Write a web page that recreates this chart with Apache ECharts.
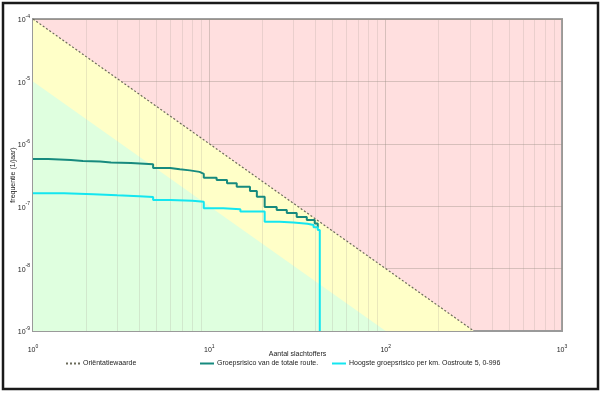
<!DOCTYPE html>
<html>
<head>
<meta charset="utf-8">
<script src="https://cdn.jsdelivr.net/npm/echarts@6/dist/echarts.min.js"></script>
<style>
html,body{margin:0;padding:0;background:#fff;}
#c{width:605px;height:395px;}
</style>
</head>
<body>
<div id="c"></div>
<script>
// ---- data ----
var orientN = [1, 316.23];
var orientF = [1e-4, 1e-9];
var greenN = [1, 100, 1000];
var greenF = [1e-5, 1e-9, 1e-9];
var yellowN = [1, 316.23, 1000];
var yellowF = [1e-4, 1e-9, 1e-9];

var totaalN = [1, 1.22, 1.64, 1.92, 2.40, 2.77, 3.59, 4.8, 6.0, 6.8, 7.75, 8.8, 9.3, 11.0, 12.6, 14.3, 17.0, 18.6, 20.6, 24.1, 27.5, 31.3, 35.7, 39.6, 41.2];
var totaalF = [5.70e-7, 5.49e-7, 5.29e-7, 5.19e-7, 5.00e-7, 4.93e-7, 4.70e-7, 4.10e-7, 3.90e-7, 3.75e-7, 3.55e-7, 3.30e-7, 2.85e-7, 2.63e-7, 2.33e-7, 2.05e-7, 1.75e-7, 1.42e-7, 9.7e-8, 8.7e-8, 7.8e-8, 6.7e-8, 6.0e-8, 5.3e-8, 4.5e-8];

var hoogsteN = [1, 1.5, 2.2, 3, 4, 4.8, 6, 8, 9.3, 12, 15, 20.6, 25, 30, 36, 39, 41.2, 42.3];
var hoogsteF = [1.61e-7, 1.56e-7, 1.50e-7, 1.45e-7, 1.40e-7, 1.26e-7, 1.22e-7, 1.18e-7, 9.25e-8, 8.9e-8, 8.2e-8, 5.65e-8, 5.5e-8, 5.25e-8, 5.0e-8, 4.6e-8, 4.16e-8, 1e-9];

var xDecades = [1, 10, 100];
var yDecades = [1e-9, 1e-8, 1e-7, 1e-6, 1e-5];
var minorMult = [2, 3, 4, 5, 6, 7, 8, 9];

var seriesNames = ['Oriëntatiewaarde', 'Groepsrisico van de totale route.', 'Hoogste groepsrisico per km. Oostroute 5, 0-996'];

function pairs(a, b) { return a.map(function (v, i) { return [v, b[i]]; }); }

var minorLines = [];
xDecades.forEach(function (d) { minorMult.forEach(function (m) { minorLines.push({ xAxis: d * m }); }); });
yDecades.forEach(function (d) { minorMult.forEach(function (m) { minorLines.push({ yAxis: d * m }); }); });

function supLabel(v) {
  var e = Math.round(Math.log10(v));
  return '{b|10}{e|' + e + '}';
}
var richLab = {
  b: { fontSize: 7, fontFamily: 'Liberation Sans', color: '#222', lineHeight: 10, verticalAlign: 'bottom' },
  e: { fontSize: 5, fontFamily: 'Liberation Sans', color: '#222', lineHeight: 10, verticalAlign: 'top' }
};

var legendCommon = {
  itemWidth: 14, itemHeight: 6, top: 355,
  itemStyle: { opacity: 0 },
  textStyle: { fontSize: 7, color: '#222', padding: [0, 0, 0, -2] }
};
function mkLegend(name, left) {
  return Object.assign({ data: [name], left: left }, legendCommon);
}

var chart = echarts.init(document.getElementById('c'), null, { renderer: 'canvas' });
var option = {
  animation: false,
  backgroundColor: '#ffffff',
  textStyle: { fontFamily: 'Liberation Sans' },
  graphic: [{
    type: 'rect', shape: { x: 3, y: 3, width: 595, height: 386 },
    style: { fill: 'none', stroke: '#1a1a1a', lineWidth: 2.5 }, z: 100, silent: true
  }],
  grid: {
    left: 33, top: 19, right: 43, bottom: 64,
    outerBoundsMode: 'none', containLabel: false,
    show: true, backgroundColor: '#ffdfdf', borderColor: '#a0a0a0', borderWidth: 2
  },
  legend: [
    mkLegend(seriesNames[0], 60),
    mkLegend(seriesNames[1], 194),
    mkLegend(seriesNames[2], 326)
  ],
  xAxis: {
    type: 'log', logBase: 10, min: 1, max: 1000,
    name: 'Aantal slachtoffers', nameLocation: 'middle', nameGap: 20, nameMoveOverlap: false,
    nameTextStyle: { fontSize: 7, color: '#222' },
    axisLine: { show: true, lineStyle: { color: '#9a9a9a', width: 2 } },
    axisTick: { show: false },
    axisLabel: { margin: 13, formatter: supLabel, rich: richLab },
    splitLine: { show: true, lineStyle: { color: 'rgba(150,140,130,0.38)', width: 1 } }
  },
  yAxis: {
    type: 'log', logBase: 10, min: 1e-9, max: 1e-4,
    name: 'frequentie (1/jaar)', nameLocation: 'middle', nameGap: 16, nameMoveOverlap: false,
    nameTextStyle: { fontSize: 7, color: '#222' },
    axisLine: { show: true, lineStyle: { color: '#9a9a9a', width: 2 } },
    axisTick: { show: false },
    axisLabel: { margin: 3, formatter: supLabel, rich: richLab },
    splitLine: { show: true, lineStyle: { color: 'rgba(150,140,130,0.38)', width: 1 } }
  },
  series: [
    { name: 'geel', type: 'line', z: 1, silent: true, symbol: 'none',
      data: pairs(yellowN, yellowF),
      lineStyle: { width: 0 }, areaStyle: { color: '#ffffc8', opacity: 1, origin: 'start' } },
    { name: 'groen', type: 'line', z: 1, silent: true, symbol: 'none',
      data: pairs(greenN, greenF),
      lineStyle: { width: 0 }, areaStyle: { color: '#dfffdf', opacity: 1, origin: 'start' } },
    { name: 'raster', type: 'line', z: 2, silent: true, symbol: 'none', data: [],
      markLine: { silent: true, symbol: ['none', 'none'], animation: false,
        label: { show: false },
        lineStyle: { color: 'rgba(160,150,140,0.22)', width: 1, type: 'solid' },
        data: minorLines } },
    { name: seriesNames[0], type: 'line', z: 4, symbol: 'none',
      data: pairs(orientN, orientF),
      lineStyle: { color: '#6b6b5a', width: 1.2, type: [2, 2] }, itemStyle: { color: '#6b6b5a' } },
    { name: seriesNames[1], type: 'line', z: 5, symbol: 'none', step: 'end',
      data: pairs(totaalN, totaalF),
      lineStyle: { color: '#178a7e', width: 2 }, itemStyle: { color: '#178a7e' } },
    { name: seriesNames[2], type: 'line', z: 5, symbol: 'none', step: 'end',
      data: pairs(hoogsteN, hoogsteF),
      lineStyle: { color: '#14e6f0', width: 2 }, itemStyle: { color: '#14e6f0' } }
  ]
};
chart.setOption(option);
</script>
</body>
</html>
